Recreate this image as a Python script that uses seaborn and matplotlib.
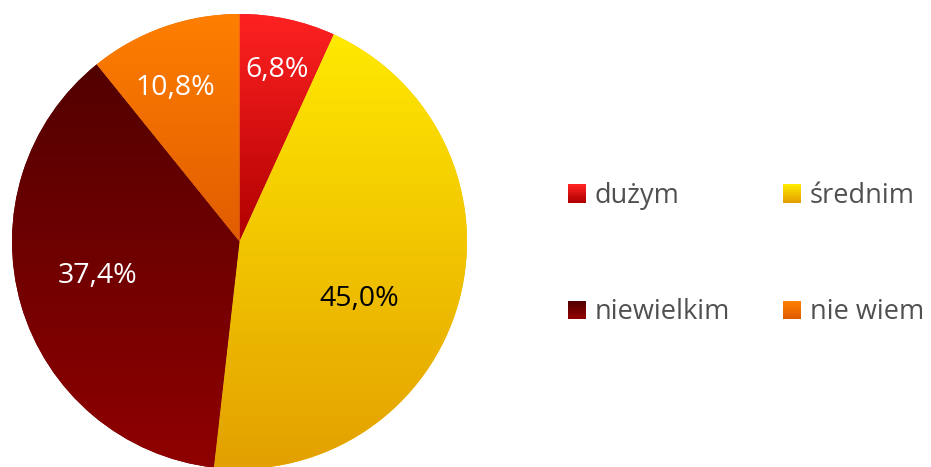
import numpy as np
import matplotlib
matplotlib.use("Agg")
import matplotlib.pyplot as plt
import seaborn as sns
from matplotlib.colors import LinearSegmentedColormap
from matplotlib.legend_handler import HandlerBase
from matplotlib.patches import Rectangle

sns.set_theme(style="white")
plt.rcParams["font.family"] = ["Open Sans", "DejaVu Sans"]

# data
categories = ["dużym", "średnim", "niewielkim", "nie wiem"]
shares = [6.8, 45.0, 37.4, 10.8]

# top/bottom colours of each slice's vertical gradient
grad_top = ["#ff2222", "#ffe900", "#520000", "#ff7f00"]
grad_bottom = ["#b00000", "#e3a000", "#900000", "#e05c00"]
label_colors = ["white", "black", "white", "white"]
# label anchor points (baseline centre) in pie units
label_pos = [(0.167, 0.723), (0.525, -0.284), (-0.622, -0.182), (-0.284, 0.644)]

W, H = 931, 467
fig = plt.figure(figsize=(W / 100, H / 100), dpi=100)
fig.patch.set_facecolor("white")

cx, cy, r = 239.5, 241.5, 227.5
ax = fig.add_axes([(cx - r) / W, (H - cy - r) / H, 2 * r / W, 2 * r / H])

mid = [LinearSegmentedColormap.from_list("g", [t, b])(0.5) for t, b in zip(grad_top, grad_bottom)]
wedges, _, autotexts = ax.pie(
    shares,
    startangle=90,
    counterclock=False,
    colors=mid,
    wedgeprops=dict(linewidth=0),
    autopct=lambda p: f"{p:.1f}%".replace(".", ","),
    textprops=dict(fontsize=20.5),
)
ax.set_xlim(-1, 1)
ax.set_ylim(-1, 1)
ax.set_aspect("equal")
ax.axis("off")

# paint each wedge with its own vertical gradient
grad = np.linspace(0, 1, 256).reshape(-1, 1)
for w, t, b in zip(wedges, grad_top, grad_bottom):
    ext = w.get_path().get_extents()
    cmap = LinearSegmentedColormap.from_list("g", [t, b])
    im = ax.imshow(grad, cmap=cmap, aspect="auto", origin="upper",
                   extent=[ext.x0, ext.x1, ext.y0, ext.y1], zorder=w.get_zorder() + 0.1,
                   interpolation="bilinear")
    im.set_clip_path(w)

for txt, pos, col in zip(autotexts, label_pos, label_colors):
    txt.set_position(pos)
    txt.set_color(col)
    txt.set_ha("center")
    txt.set_va("baseline")
    txt.set_zorder(10)


class GradientSquare(HandlerBase):
    def __init__(self, top, bottom):
        super().__init__()
        self.top, self.bottom = top, bottom

    def create_artists(self, legend, orig_handle, xdescent, ydescent, width, height, fontsize, trans):
        cmap = LinearSegmentedColormap.from_list("g", [self.top, self.bottom])
        n = 12
        side = height
        y0 = -ydescent
        arts = []
        for i in range(n):
            arts.append(Rectangle((-xdescent, y0 + side * (n - 1 - i) / n), width, side / n + 0.05,
                                  facecolor=cmap(i / (n - 1)), edgecolor="none", transform=trans))
        return arts


# legend reads row by row: matplotlib fills columns first, so interleave
order = [0, 2, 1, 3]
handles = [Rectangle((0, 0), 1, 1) for _ in categories]
handler_map = {h: GradientSquare(t, b) for h, t, b in zip(handles, grad_top, grad_bottom)}
leg = fig.legend(
    [handles[i] for i in order], [categories[i] for i in order], handler_map=handler_map,
    loc="upper left", bbox_to_anchor=(568 / W, 1 - 182 / H),
    ncol=2, frameon=False, fontsize=19.5,
    handlelength=0.665, handleheight=0.665, handletextpad=0.33,
    columnspacing=1.95, labelspacing=3.26, borderpad=0, borderaxespad=0,
)
for t in leg.get_texts():
    t.set_color("#505050")

fig.savefig("out.png", dpi=100, facecolor="white")
